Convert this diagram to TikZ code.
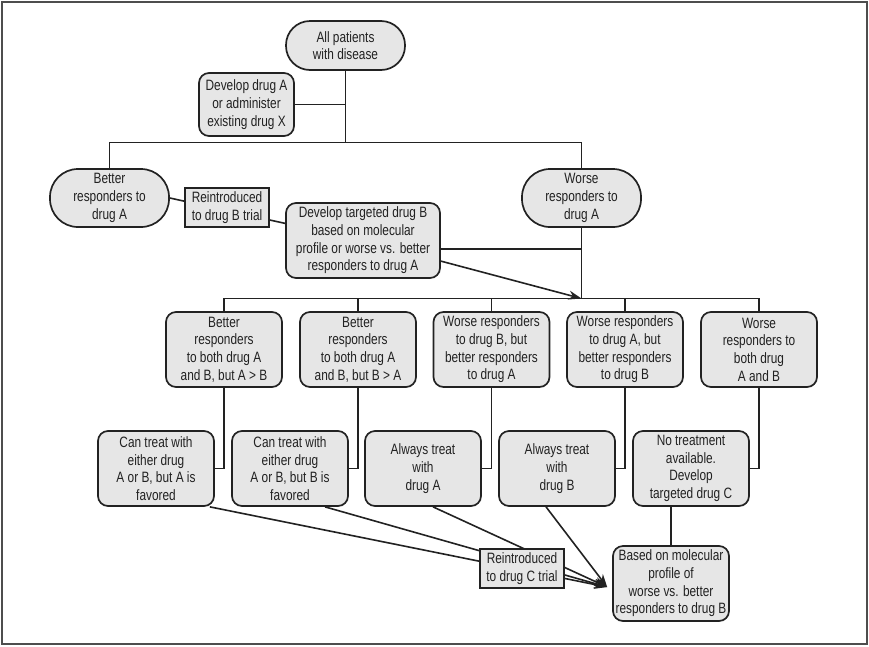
\documentclass[tikz,border=0pt]{standalone}
\usepackage{fontspec}
\setmainfont{Liberation Sans}[FakeStretch=0.79]
\usetikzlibrary{arrows.meta,backgrounds}
\definecolor{boxfill}{HTML}{E6E6E6}
\definecolor{inkline}{HTML}{222222}
\definecolor{framegray}{HTML}{4D4D4D}
\tikzset{
  stadium/.style={draw=inkline, fill=boxfill, line width=1.7pt, align=center,
    inner sep=0pt, minimum width=119pt, rounded corners=#1},
  stadium/.default=28pt,
  roundbox/.style={draw=inkline, fill=boxfill, line width=1.7pt, align=center,
    inner sep=0pt, minimum width=116pt, minimum height=75pt, rounded corners=10pt},
  trialbox/.style={draw=inkline, fill=boxfill, line width=1.5pt, align=center,
    inner sep=0pt, minimum width=84pt, minimum height=39pt},
  link/.style={draw=inkline, line width=1.6pt},
  arrowlink/.style={link, -{Stealth[length=13pt,width=9pt]}},
}
\begin{document}
\begin{tikzpicture}[x=1pt, y=-1pt, font=\fontsize{15pt}{17.7pt}\selectfont, text=inkline]
    \useasboundingbox (0,0) rectangle (869,646);
    % Rahmen
    \draw[framegray, line width=2.5pt] (2,2) rectangle (867,644);
    % oberer Teil
    \node[stadium=24pt, minimum height=49pt] (all) at (345.5,45.5) {All patients\\with disease};
    \node[roundbox, minimum width=95pt, minimum height=63pt] (devA) at (246.5,104.5) {Develop drug A\\or administer\\existing drug X};
    \node[stadium, minimum height=58pt] (better) at (109.5,198) {Better\\responders to\\drug A};
    \node[stadium, minimum height=58pt] (worse) at (581.5,198) {Worse\\responders to\\drug A};
    \node[trialbox] (trialB) at (227,207.5) {Reintroduced\\to drug B trial};
    \node[roundbox, minimum width=154pt] (devB) at (363,240.5) {Develop targeted drug B\\based on molecular\\profile or worse vs. better\\responders to drug A};
    % mittlere Reihe
    \node[roundbox] (betterAB) at (224,349.5) {Better\\responders\\to both drug A\\and B, but A > B};
    \node[roundbox] (betterBA) at (358,349.5) {Better\\responders\\to both drug A\\and B, but B > A};
    \node[roundbox] (worseBbetterA) at (491.5,349.5) {Worse responders\\to drug B, but\\better responders\\to drug A};
    \node[roundbox] (worseAbetterB) at (625,349.5) {Worse responders\\to drug A, but\\better responders\\to drug B};
    \node[roundbox] (worseBoth) at (759,349.5) {Worse\\responders to\\both drug\\A and B};
    % Behandlung
    \node[roundbox] (eitherA) at (156,468.5) {Can treat with\\either drug\\A or B, but A is\\favored};
    \node[roundbox] (eitherB) at (290,468.5) {Can treat with\\either drug\\A or B, but B is\\favored};
    \node[roundbox] (alwaysA) at (423,468.5) {Always treat\\with\\drug A};
    \node[roundbox] (alwaysB) at (557,468.5) {Always treat\\with\\drug B};
    \node[roundbox] (noTreat) at (691,468.5) {No treatment\\available.\\Develop\\targeted drug C};
    % unterer Teil
    \node[trialbox] (trialC) at (522,568.5) {Reintroduced\\to drug C trial};
    \node[roundbox] (basedB) at (671,583.5) {Based on molecular\\profile of\\worse vs. better\\responders to drug B};
    % Verbindungen
    \begin{scope}[on background layer]
        \coordinate (split1) at (345.5,142.5);
        \coordinate (split2) at (581.5,298.5);
        \coordinate (devBout) at ([yshift=-8.5pt]devB.east);
        \coordinate (merge) at ([xshift=-5pt,yshift=-3.5pt]basedB.west);
        \draw[link] (all) -- (split1);
        \draw[link] (devA.east) -- (devA.east -| split1);
        \draw[link] (better) |- (split1) -| (worse);
        \draw[link] (better.east) -- (devB);
        \draw[link] (worse) -- (split2);
        \draw[link] (devBout) -- (devBout -| worse);
        \draw[arrowlink] (devB) -- (split2);
        \draw[link] (betterAB) |- (split2) -| (worseBoth);
        \draw[link] (betterBA) -- (betterBA |- split2);
        \draw[link] (worseBbetterA) -- (worseBbetterA |- split2);
        \draw[link] (worseAbetterB) -- (worseAbetterB |- split2);
        \draw[link] (betterAB) |- (eitherA);
        \draw[link] (betterBA) |- (eitherB);
        \draw[link] (worseBbetterA) |- (alwaysA);
        \draw[link] (worseAbetterB) |- (alwaysB);
        \draw[link] (worseBoth) |- (noTreat);
        \draw[link] (noTreat -| basedB) -- (basedB);
        \draw[arrowlink] ([xshift=-5pt]eitherA.south east) -- (merge);
        \draw[arrowlink] ([xshift=35pt]eitherB.south) -- (merge);
        \draw[arrowlink] ([xshift=10pt]alwaysA.south) -- (merge);
        \draw[arrowlink] ([xshift=-11pt]alwaysB.south) -- (merge);
    \end{scope}
\end{tikzpicture}
\end{document}
